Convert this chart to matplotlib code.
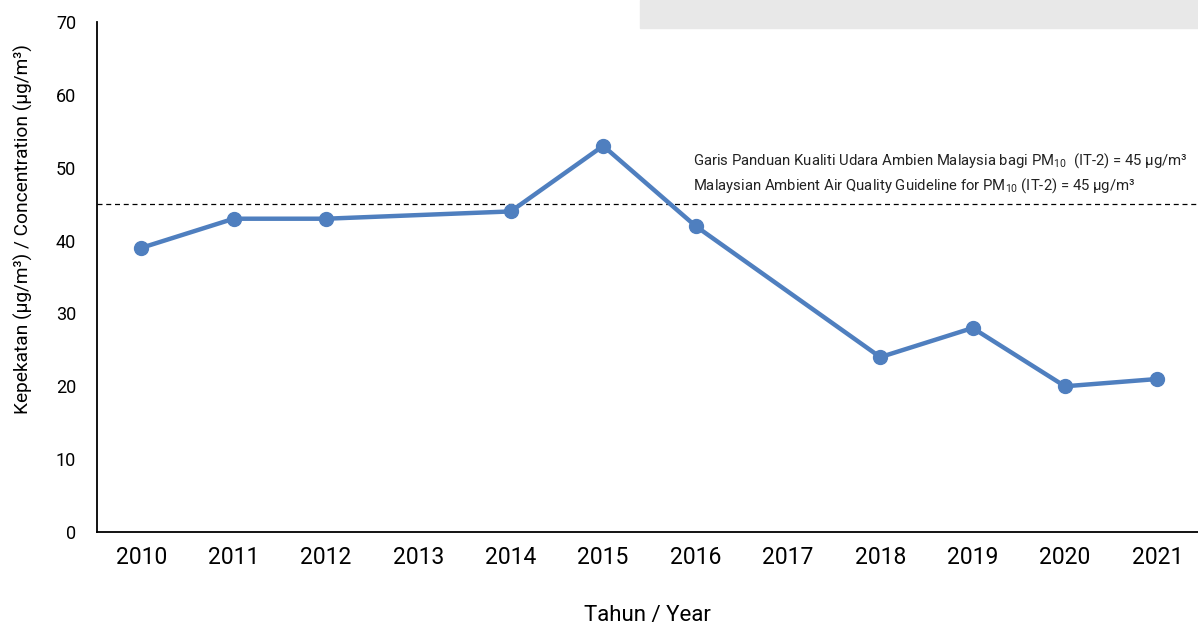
import numpy as np
import matplotlib.pyplot as plt
from matplotlib.patches import Rectangle

FONT = ['Roboto', 'DejaVu Sans']
plt.rcParams['font.family'] = FONT
plt.rcParams['mathtext.fontset'] = 'custom'
plt.rcParams['mathtext.rm'] = 'Roboto'

# Annual PM10 concentration (2013 and 2017 have no value)
years = ['2010', '2011', '2012', '2013', '2014', '2015', '2016', '2017',
         '2018', '2019', '2020', '2021']
pm10 = [39, 43, 43, None, 44, 53, 42, None, 24, 28, 20, 21]
guideline = 45

x = np.arange(len(years))
vals = np.array([np.nan if v is None else v for v in pm10], dtype=float)
ok = ~np.isnan(vals)

fig = plt.figure(figsize=(11.98, 6.32), dpi=100)
ax = fig.add_axes([97 / 1198, 1 - 532 / 632, 1101 / 1198, 510 / 632])

# grey block at top right
fig.patches.append(Rectangle((640 / 1198, 1 - 28 / 632), 558 / 1198, 28 / 632,
                             transform=fig.transFigure, color='#e8e8e8', zorder=0))

ax.plot(x[ok], vals[ok], color='#4f7fbf', lw=3.2, marker='o', markersize=10,
        zorder=3)
ax.axhline(guideline, color='black', ls=(0, (4, 3)), lw=0.9, zorder=2)

ax.text(5.97, 51.0,
        'Garis Panduan Kualiti Udara Ambien Malaysia bagi PM$_{10}$  (IT-2) = 45 µg/m³',
        fontsize=10.7, color='#222222', va='center')
ax.text(5.97, 47.6,
        'Malaysian Ambient Air Quality Guideline for PM$_{10}$ (IT-2) = 45 µg/m³',
        fontsize=10.7, color='#222222', va='center')

ax.set_xlim(-0.48, 11.44)
ax.set_ylim(0, 70)
ax.set_xticks(x)
ax.set_xticklabels(years, fontsize=16.5)
ax.set_yticks(range(0, 71, 10))
ax.set_yticklabels([str(v) for v in range(0, 71, 10)], fontsize=13)
ax.tick_params(axis='y', length=0, pad=15)
ax.tick_params(axis='x', length=0, pad=10)

for s in ['top', 'right']:
    ax.spines[s].set_visible(False)
for s in ['left', 'bottom']:
    ax.spines[s].set_linewidth(1.3)

ax.set_xlabel('Tahun / Year', fontsize=16, labelpad=26)
ax.set_ylabel('Kepekatan (µg/m³) / Concentration (µg/m³)', fontsize=13.8)
ax.yaxis.set_label_coords(-0.058, 0.595)

fig.savefig('out.png', dpi=100)
